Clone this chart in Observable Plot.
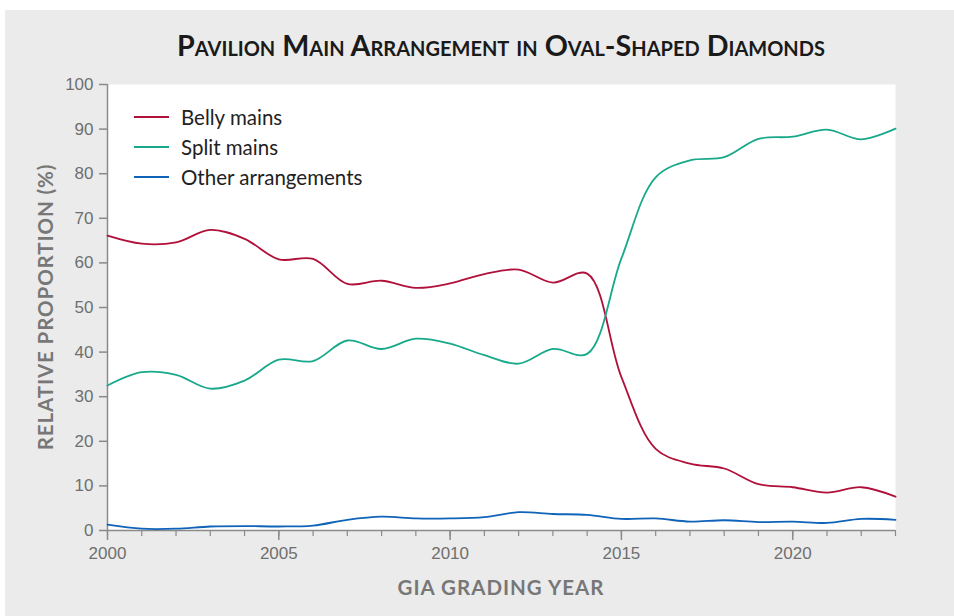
<!DOCTYPE html>
<html>
<head>
<meta charset="utf-8">
<script src="https://cdn.jsdelivr.net/npm/d3@7"></script>
<script src="https://cdn.jsdelivr.net/npm/@observablehq/plot@0.6"></script>
<style>
  html, body { margin:0; padding:0; background:#ffffff; width:954px; height:616px; overflow:hidden; }
  #panel { position:absolute; left:5px; top:10px; width:949px; height:606px; background:#ebebeb; }
  #chart { position:absolute; left:0; top:0; }
  #title { position:absolute; left:0; width:1002px; top:28px; text-align:center; font-family:Lato, sans-serif; font-weight:700; font-size:28.7px; font-variant:small-caps; color:#1a1a1a; letter-spacing:0px; }
  #ylabel { position:absolute; left:45px; top:307px; transform:translate(-50%,-50%) rotate(-90deg); white-space:nowrap; font-family:Lato, sans-serif; font-weight:700; font-size:20.5px; color:#777; letter-spacing:0.9px; }
  #xlabel { position:absolute; left:501px; top:587px; transform:translate(-50%,-50%); white-space:nowrap; font-family:Lato, sans-serif; font-weight:700; font-size:20.5px; color:#777; letter-spacing:1px; }
  #legend { position:absolute; left:134px; top:102px; font-family:Lato, sans-serif; font-size:20.5px; color:#222; }
  .item { display:flex; align-items:center; height:30px; }
  .sw { width:35px; height:2.4px; margin-right:12px; }
</style>
</head>
<body>
<div id="panel"></div>
<div id="chart"></div>
<div id="title">Pavilion Main Arrangement in Oval-Shaped Diamonds</div>
<div id="ylabel">RELATIVE PROPORTION (%)</div>
<div id="xlabel">GIA GRADING YEAR</div>
<div id="legend"></div>
<script>
const years = [2000,2001,2002,2003,2004,2005,2006,2007,2008,2009,2010,2011,2012,2013,2014,2015,2016,2017,2018,2019,2020,2021,2022,2023];
const bellyMains = [66.1,64.3,64.6,67.4,65.4,60.8,60.9,55.3,56.0,54.4,55.4,57.5,58.5,55.6,57.6,34.4,18.3,15.0,13.9,10.4,9.7,8.5,9.7,7.6];
const splitMains = [32.5,35.5,34.9,31.8,33.6,38.3,38.0,42.6,40.7,43.0,41.9,39.3,37.4,40.7,39.6,61.0,79.2,83.0,83.7,87.8,88.3,89.9,87.7,90.1];
const otherArrangements = [1.3,0.4,0.4,0.9,1.0,0.9,1.1,2.4,3.1,2.7,2.7,3.0,4.1,3.7,3.5,2.6,2.7,2.0,2.3,1.9,2.0,1.7,2.6,2.4];
const seriesNames = ["Belly mains","Split mains","Other arrangements"];
const seriesColors = ["#b0103a","#17a98a","#0f63b9"];
const majorYears = [2000,2005,2010,2015,2020];
const yTicks = [0,10,20,30,40,50,60,70,80,90,100];

const seriesValues = [bellyMains, splitMains, otherArrangements];
const data = seriesNames.flatMap((name, s) => years.map((yr, i) => ({year: yr, value: seriesValues[s][i], series: name})));

const axisColor = "#8a8a8a";
const chart = Plot.plot({
  width: 954, height: 616,
  marginLeft: 107, marginRight: 59, marginTop: 84, marginBottom: 86,
  style: {background: "transparent", fontFamily: "'Liberation Sans', Arial, sans-serif", fontSize: "17px", color: "#6f6f6f", overflow: "visible"},
  x: {domain: [2000, 2023], label: null},
  y: {domain: [0, 100], label: null},
  color: {domain: seriesNames, range: seriesColors},
  marks: [
    Plot.frame({fill: "white", stroke: null}),
    Plot.axisX({ticks: years, tickSize: 6, tickFormat: () => "", stroke: axisColor, strokeWidth: 1.2}),
    Plot.axisX({ticks: majorYears, tickSize: 10, tickPadding: 6, tickFormat: d => String(d), stroke: axisColor, strokeWidth: 1.5, fill: "#6f6f6f"}),
    Plot.axisY({ticks: yTicks, tickSize: 8, tickPadding: 6, stroke: axisColor, strokeWidth: 1.5, fill: "#6f6f6f"}),
    Plot.ruleX([2000], {stroke: axisColor, strokeWidth: 1.5}),
    Plot.ruleY([0], {stroke: axisColor, strokeWidth: 1.5}),
    Plot.line(data, {x: "year", y: "value", stroke: "series", curve: "catmull-rom", strokeWidth: 1.8})
  ]
});
document.getElementById("chart").appendChild(chart);

const legend = document.getElementById("legend");
seriesNames.forEach((name, i) => {
  const item = document.createElement("div");
  item.className = "item";
  const sw = document.createElement("div");
  sw.className = "sw";
  sw.style.background = seriesColors[i];
  const label = document.createElement("span");
  label.textContent = name;
  item.appendChild(sw);
  item.appendChild(label);
  legend.appendChild(item);
});
</script>
</body>
</html>
